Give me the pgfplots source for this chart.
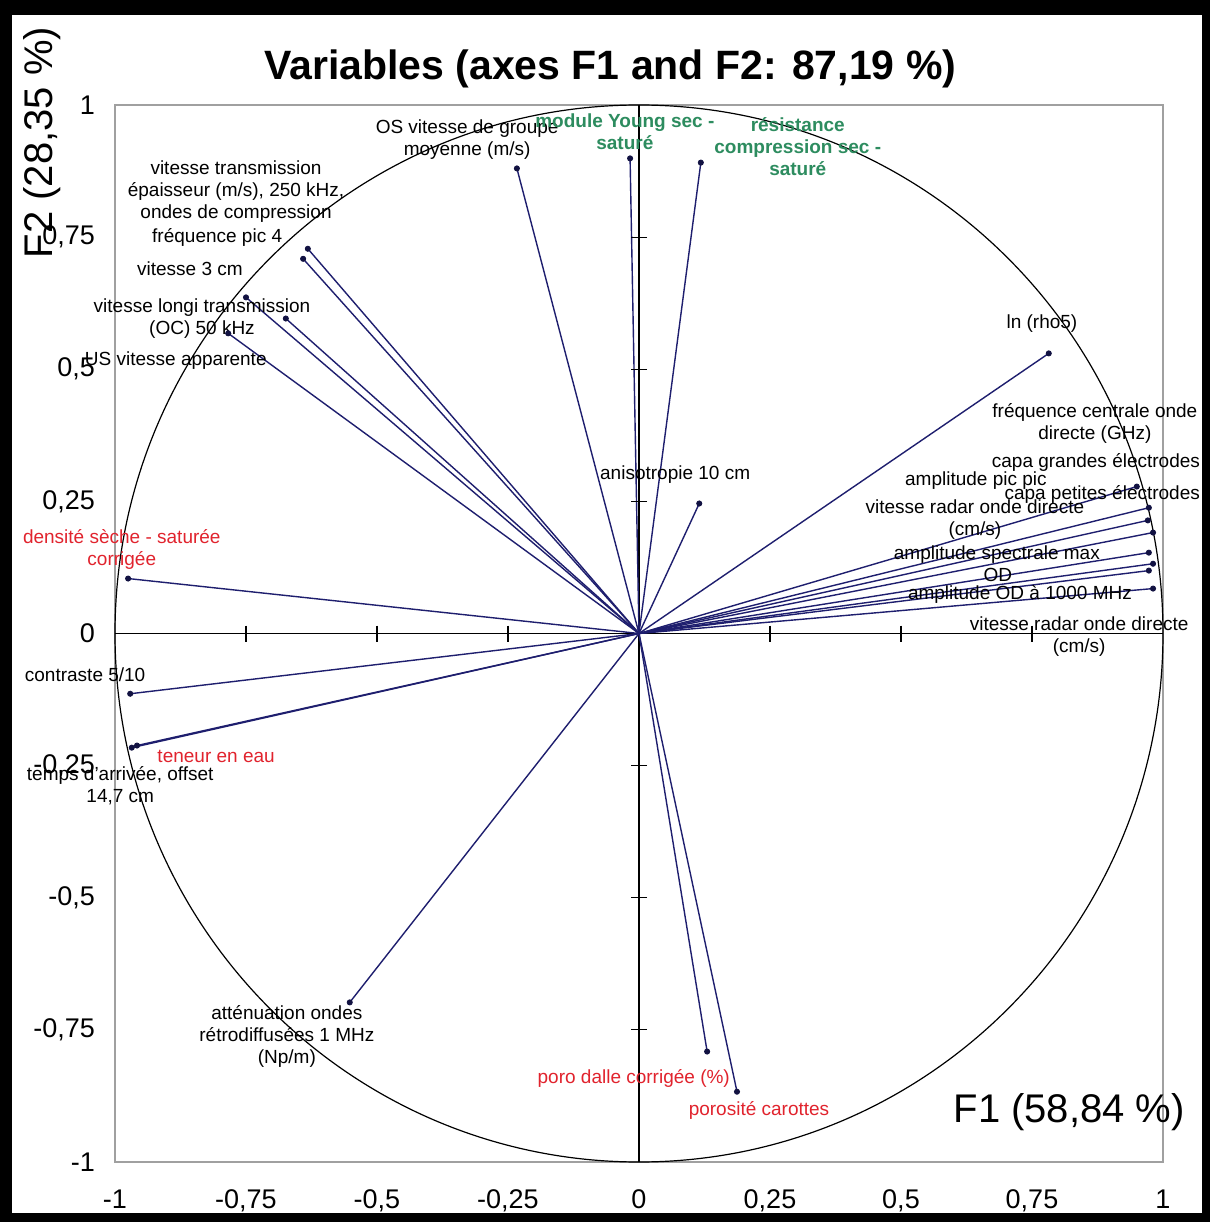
\documentclass[border=0pt]{standalone}
\usepackage{fontspec}
\setmainfont{Liberation Sans}
\usepackage{pgfplots}
\usepackage{pgfplotstable}
\pgfplotsset{compat=1.18}
\definecolor{vecblue}{RGB}{30,30,110}
\definecolor{lblred}{RGB}{225,35,45}
\definecolor{lblgreen}{RGB}{45,140,95}
\definecolor{framegray}{RGB}{160,160,160}
\tikzset{
  lbl/.style={align=center, inner sep=0pt, font=\fontsize{9.5}{11}\selectfont},
  lblr/.style={lbl, text=lblred},
  lblg/.style={align=center, inner sep=0pt, text=lblgreen, font=\fontsize{9.5}{11}\selectfont\bfseries},
}

\pgfplotstableread{
x y
-0.233 0.880
-0.017 0.899
0.118 0.891
-0.632 0.728
-0.641 0.709
-0.750 0.636
-0.674 0.596
-0.784 0.568
0.782 0.530
0.115 0.246
0.950 0.278
0.973 0.238
0.971 0.214
0.981 0.191
0.973 0.153
0.981 0.132
0.973 0.119
0.981 0.085
-0.975 0.104
-0.971 -0.114
-0.968 -0.216
-0.958 -0.212
-0.552 -0.698
0.130 -0.791
0.187 -0.867
}\vecs

\begin{document}
\begin{tikzpicture}
\useasboundingbox (-57.5pt,-30pt) rectangle (547.5pt,581pt);
\fill[white] (-57.5pt,-30pt) rectangle (547.5pt,581pt);
\begin{axis}[
  scale only axis,
  width=524pt, height=528.5pt,
  xmin=-1, xmax=1, ymin=-1, ymax=1,
  axis line style={framegray, line width=0.8pt},
  xtick={-1,-0.75,-0.5,-0.25,0,0.25,0.5,0.75,1},
  ytick={-1,-0.75,-0.5,-0.25,0,0.25,0.5,0.75,1},
  major tick length=0pt,
  xtick pos=bottom, ytick pos=left,
  /pgf/number format/.cd, use comma, fixed, assume math mode=true,
  /pgfplots/.cd,
  tick label style={font=\fontsize{13.5}{15}\selectfont},
  xticklabel style={anchor=base, yshift=-23pt},
  yticklabel style={anchor=east, xshift=-6.5pt},
  clip=false,
]
% centre axes
\addplot[black, line width=0.6pt] coordinates {(-1,0) (1,0)};
\addplot[black, line width=0.6pt] coordinates {(0,-1) (0,1)};
\addplot[black, only marks, mark=|, mark size=4pt, mark options={line width=0.6pt}]
  coordinates {(-0.75,0) (-0.5,0) (-0.25,0) (0.25,0) (0.5,0) (0.75,0)};
\addplot[black, only marks, mark=-, mark size=4pt, mark options={line width=0.6pt}]
  coordinates {(0,-0.75) (0,-0.5) (0,-0.25) (0,0.25) (0,0.5) (0,0.75)};
% correlation circle
\draw[black, line width=0.6pt] (axis cs:0,0) ellipse [x radius=1, y radius=1];
% vectors
\addplot[vecblue, line width=0.7pt, no marks, quiver={u=\thisrow{x}, v=\thisrow{y}}]
  table[x expr=0, y expr=0] {\vecs};
\addplot[vecblue!60!black, only marks, mark=*, mark size=1.3pt] table[x=x, y=y] {\vecs};
% labels
\node[lbl] at (axis cs:-0.328,0.935) {OS vitesse de groupe\\moyenne (m/s)};
\node[lblg] at (axis cs:-0.027,0.950) {module Young sec -\\saturé};
\node[lblg] at (axis cs:0.303,0.921) {résistance\\compression sec -\\saturé};
\node[lbl] at (axis cs:-0.769,0.836) {vitesse transmission\\épaisseur (m/s), 250 kHz,\\ondes de compression};
\node[lbl] at (axis cs:-0.805,0.749) {fréquence pic 4};
\node[lbl] at (axis cs:-0.857,0.691) {vitesse 3 cm};
\node[lbl] at (axis cs:-0.834,0.596) {vitesse longi transmission\\(OC) 50 kHz};
\node[lbl] at (axis cs:-0.884,0.517) {US vitesse apparente};
\node[lbl] at (axis cs:0.769,0.587) {ln (rho5)};
\node[lbl] at (axis cs:0.870,0.397) {fréquence centrale onde\\directe (GHz)};
\node[lbl] at (axis cs:0.872,0.323) {capa grandes électrodes};
\node[lbl] at (axis cs:0.643,0.289) {amplitude pic pic};
\node[lbl] at (axis cs:0.884,0.263) {capa petites électrodes};
\node[lbl] at (axis cs:0.641,0.216) {vitesse radar onde directe\\(cm/s)};
\node[lbl] at (axis cs:0.683,0.149) {amplitude spectrale max};
\node[lbl] at (axis cs:0.685,0.110) {OD};
\node[lbl] at (axis cs:0.727,0.074) {amplitude OD à 1000 MHz};
\node[lbl] at (axis cs:0.840,-0.006) {vitesse radar onde directe\\(cm/s)};
\node[lbl] at (axis cs:0.069,0.301) {anisotropie 10 cm};
\node[lblr] at (axis cs:-0.987,0.159) {densité sèche - saturée\\corrigée};
\node[lbl] at (axis cs:-1.057,-0.078) {contraste 5/10};
\node[lblr] at (axis cs:-0.807,-0.233) {teneur en eau};
\node[lbl] at (axis cs:-0.990,-0.288) {temps d'arrivée, offset\\14,7 cm};
\node[lbl] at (axis cs:-0.672,-0.763) {atténuation ondes\\rétrodiffusées 1 MHz\\(Np/m)};
\node[lblr] at (axis cs:-0.010,-0.842) {poro dalle corrigée (\%)};
\node[lblr] at (axis cs:0.229,-0.903) {porosité carottes};
% axis titles
\node[font=\fontsize{20}{22}\selectfont] at (axis cs:0.821,-0.906) {F1 (58,84 \%)};
\node[font=\fontsize{20}{22}\selectfont, rotate=90] at (axis cs:-1.139,0.929) {F2 (28,35 \%)};
\node[font=\fontsize{20.5}{24}\selectfont\bfseries] at (axis cs:-0.055,1.069) {Variables (axes F1 and F2: 87,19 \%)};
\end{axis}
% outer black frame
\fill[black, even odd rule] (-57.5pt,-30pt) rectangle (547.5pt,581pt)
  (-51.5pt,-25.5pt) rectangle (543.5pt,573.5pt);
\end{tikzpicture}
\end{document}
